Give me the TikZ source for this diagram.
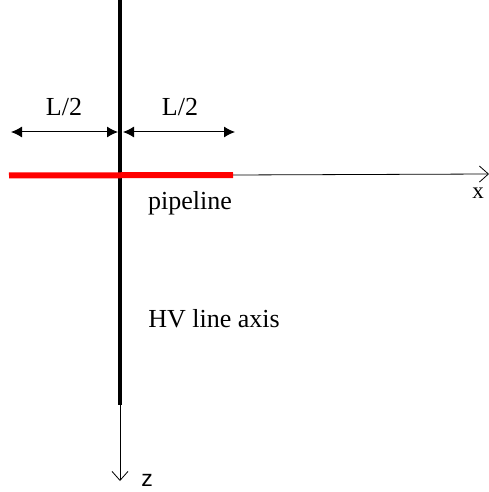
\documentclass[tikz,border=0pt]{standalone}
\usepackage{fontspec}
\setmainfont{Liberation Serif}
\setsansfont{Liberation Sans}
\usetikzlibrary{arrows.meta}

\begin{document}
\begin{tikzpicture}[x=1bp,y=-1bp,
	lbl/.style={font=\fontsize{26bp}{30bp}\selectfont,inner sep=0pt},
	axis/.style={line width=0.8bp,-{Straight Barb[length=9bp,width=16bp]}},
	dim/.style={line width=1bp,{Latex[length=11bp,width=11bp]}-{Latex[length=11bp,width=11bp]}}]
\useasboundingbox (0,0) rectangle (489,492);
% HV line and z axis
\coordinate (top) at (120,0);
\coordinate (hvend) at (120,405);
\coordinate (zend) at (120,481);
\draw[line width=4.5bp] (top) -- (hvend);
\draw[axis] (hvend) -- (zend);
% pipeline and x axis
\coordinate (pl) at (9,175.5);
\coordinate (pr) at (233,175);
\coordinate (xend) at (489,174);
\draw[axis] (pr) -- (xend);
\draw[red,line width=6bp] (pl) -- (pr);
% L/2 dimensions
\coordinate (dl) at (11,132);
\coordinate (dm1) at (118,132);
\coordinate (dm2) at (123,132);
\coordinate (dr) at (235,132);
\draw[dim] (dl) -- (dm1);
\draw[dim] (dm2) -- (dr);
% labels
\node[lbl,anchor=base] (half1) at (64,116) {L/2};
\node[lbl,anchor=base] (half2) at (180,116) {L/2};
\node[lbl,anchor=base] (pipe) at (190,209) {pipeline};
\node[lbl,anchor=base] (hv) at (214,327) {HV line axis};
\node[lbl,anchor=base,font=\fontsize{23bp}{27bp}\selectfont] (xl) at (478,198) {x};
\node[lbl,anchor=base,font=\sffamily\fontsize{23bp}{27bp}\selectfont] (zl) at (147,486) {z};
\end{tikzpicture}
\end{document}
